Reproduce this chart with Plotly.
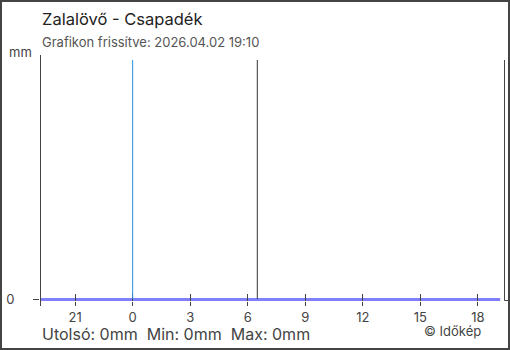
import plotly.graph_objects as go

# ---- data ----
times = [
    "2026-04-01 19:10", "2026-04-01 20:10", "2026-04-01 21:10", "2026-04-01 22:10",
    "2026-04-01 23:10", "2026-04-02 00:10", "2026-04-02 01:10", "2026-04-02 02:10",
    "2026-04-02 03:10", "2026-04-02 04:10", "2026-04-02 05:10", "2026-04-02 06:10",
    "2026-04-02 07:10", "2026-04-02 08:10", "2026-04-02 09:10", "2026-04-02 10:10",
    "2026-04-02 11:10", "2026-04-02 12:10", "2026-04-02 13:10", "2026-04-02 14:10",
    "2026-04-02 15:10", "2026-04-02 16:10", "2026-04-02 17:10", "2026-04-02 18:10",
    "2026-04-02 19:10",
]
precip_mm = [0, 0, 0, 0, 0, 0, 0, 0, 0, 0, 0, 0, 0, 0, 0, 0, 0, 0, 0, 0, 0, 0, 0, 0, 0]

tick_times = [
    "2026-04-01 21:00", "2026-04-02 00:00", "2026-04-02 03:00", "2026-04-02 06:00",
    "2026-04-02 09:00", "2026-04-02 12:00", "2026-04-02 15:00", "2026-04-02 18:00",
]
tick_labels = ["21", "0", "3", "6", "9", "12", "15", "18"]

midnight = "2026-04-02 00:00"
marker_time = "2026-04-02 06:30"
x_range = ["2026-04-01 19:10", "2026-04-02 19:22"]

title = "Zalalövő - Csapadék"
subtitle = "Grafikon frissítve: 2026.04.02 19:10"
footer = "Utolsó: 0mm  Min: 0mm  Max: 0mm"
credit = "© Időkép"

# ---- layout geometry ----
W, H = 510, 350
L, R, T, B = 40, 6, 60, 49
PW, PH = W - L - R, H - T - B
FONT = "Inter"


def px_x(p):
    return (p - L) / PW


def px_y(p):
    return (H - B - p) / PH


fig = go.Figure()
fig.add_trace(go.Scatter(
    x=times, y=precip_mm, mode="lines",
    line=dict(color="#8080ff", width=3), hoverinfo="skip", showlegend=False,
))
# invisible trace for inner tick overlay axis
fig.add_trace(go.Scatter(x=times, y=precip_mm, xaxis="x2", mode="lines",
                         line=dict(width=0), hoverinfo="skip", showlegend=False))

axis_col = "#444444"
fig.update_layout(
    width=W, height=H,
    margin=dict(l=L, r=R, t=T, b=B, pad=0),
    paper_bgcolor="white", plot_bgcolor="white",
    font=dict(family=FONT, color=axis_col, size=13),
    xaxis=dict(
        type="date", range=x_range, showgrid=False, zeroline=False, showline=False,
        tickvals=tick_times, ticktext=tick_labels, ticks="outside", ticklen=4,
        tickwidth=1, tickcolor=axis_col, tickfont=dict(size=13, color=axis_col),
    ),
    xaxis2=dict(
        type="date", range=x_range, overlaying="x", showgrid=False, zeroline=False,
        showline=False, tickvals=tick_times, ticks="inside", ticklen=7, tickwidth=1,
        tickcolor=axis_col, showticklabels=False,
    ),
    yaxis=dict(
        range=[-0.006, 1], showgrid=False, zeroline=False, showline=False,
        tickvals=[0], ticktext=["0"], ticks="outside", ticklen=6, tickwidth=1,
        tickcolor=axis_col, tickfont=dict(size=13, color=axis_col),
        ticklabelstandoff=16,
    ),
)

shapes = [
    # frame
    dict(type="rect", xref="paper", yref="paper",
         x0=px_x(1), x1=px_x(509), y0=px_y(349), y1=px_y(1),
         line=dict(color="#444444", width=2), fillcolor="rgba(0,0,0,0)", layer="above"),
    # left axis line
    dict(type="line", xref="paper", yref="paper", x0=px_x(40.5), x1=px_x(40.5),
         y0=px_y(306), y1=px_y(55), line=dict(color=axis_col, width=1)),
    # right axis line
    dict(type="line", xref="paper", yref="paper", x0=px_x(504.5), x1=px_x(504.5),
         y0=px_y(300.5), y1=px_y(60), line=dict(color=axis_col, width=1)),
    dict(type="line", xref="paper", yref="paper", x0=px_x(504.5), x1=px_x(509),
         y0=px_y(300.5), y1=px_y(300.5), line=dict(color=axis_col, width=1)),
    # midnight line
    dict(type="line", xref="x", yref="paper", x0=midnight, x1=midnight,
         y0=px_y(299), y1=1, line=dict(color="#2a8ee0", width=1)),
    # marker line
    dict(type="line", xref="x", yref="paper", x0=marker_time, x1=marker_time,
         y0=px_y(299), y1=1, line=dict(color="#333333", width=1)),
]
fig.update_layout(shapes=shapes)

annotations = [
    dict(text=title, xref="paper", yref="paper", x=px_x(40), y=px_y(19),
         xanchor="left", yanchor="middle", showarrow=False,
         font=dict(size=16.5, color="#222222", family=FONT)),
    dict(text=subtitle, xref="paper", yref="paper", x=px_x(40), y=px_y(41.5),
         xanchor="left", yanchor="middle", showarrow=False,
         font=dict(size=13, color="#555555", family=FONT)),
    dict(text="mm", xref="paper", yref="paper", x=px_x(34), y=px_y(52),
         xanchor="right", yanchor="middle", showarrow=False,
         font=dict(size=13, color=axis_col, family=FONT)),
    dict(text=footer, xref="paper", yref="paper", x=px_x(40), y=px_y(333.5),
         xanchor="left", yanchor="middle", showarrow=False,
         font=dict(size=16, color=axis_col, family=FONT)),
    dict(text=credit, xref="paper", yref="paper", x=px_x(483), y=px_y(330.5),
         xanchor="right", yanchor="middle", showarrow=False,
         font=dict(size=13, color=axis_col, family=FONT)),
]
fig.update_layout(annotations=annotations)

fig.write_html("out.html")
